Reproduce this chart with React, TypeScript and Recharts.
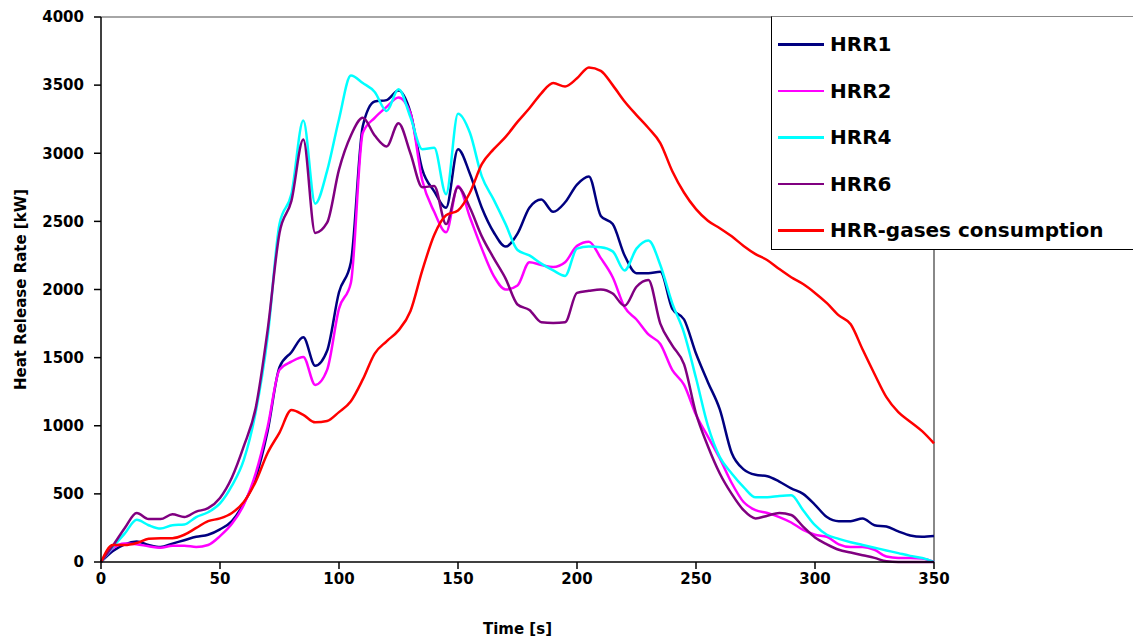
import { LineChart, Line, XAxis, YAxis, Legend, ReferenceLine } from 'recharts'

const times = [
  0, 5, 10, 15, 20, 25, 30, 35, 40, 45, 50, 55, 60, 65, 70, 75, 80, 85, 90, 95, 100, 105, 110, 115, 120,
  125, 130, 135, 140, 145, 150, 155, 160, 165, 170, 175, 180, 185, 190, 195, 200, 205, 210, 215, 220, 225,
  230, 235, 240, 245, 250, 255, 260, 265, 270, 275, 280, 285, 290, 295, 300, 305, 310, 315, 320, 325, 330,
  335, 340, 345, 350,
]

const hrr1 = [
  0, 80, 130, 150, 125, 110, 135, 160, 185, 200, 240, 300, 430, 620, 960, 1430, 1540, 1650, 1440, 1550,
  1980, 2200, 3200, 3380, 3390, 3460, 3300, 2880, 2720, 2600, 3030, 2850, 2600, 2420, 2315, 2410, 2600,
  2660, 2570, 2640, 2770, 2830, 2540, 2480, 2250, 2120, 2120, 2130, 1860, 1780, 1530, 1320, 1120, 800, 680,
  640, 630, 590, 540, 500, 420, 330, 300, 300, 320, 270, 260, 225, 195, 185, 190,
]

const hrr2 = [
  0, 100, 135, 130, 115, 105, 120, 120, 110, 125, 190, 280, 420, 650, 990, 1410, 1470, 1505, 1300, 1410,
  1860, 2050, 3150, 3260, 3340, 3410, 3295, 2800, 2570, 2420, 2760, 2530, 2300, 2100, 2000, 2030, 2200,
  2180, 2165, 2200, 2320, 2350, 2230, 2090, 1870, 1780, 1670, 1600, 1410, 1300, 1080, 920, 760, 580, 440,
  380, 360, 330, 290, 235, 200, 185, 130, 110, 110, 90, 40, 30, 30, 25, 0,
]

const hrr4 = [
  0, 110, 210, 310, 270, 245, 270, 275, 330, 365, 430, 560, 750, 1100, 1650, 2480, 2700, 3240, 2630, 2870,
  3250, 3570, 3515, 3450, 3310, 3470, 3265, 3030, 3040, 2700, 3290, 3150, 2830, 2660, 2480, 2290, 2250,
  2190, 2140, 2100, 2300, 2315, 2310, 2280, 2140, 2300, 2360, 2180, 1900, 1680, 1350, 1000, 770, 650, 550,
  475, 475, 485, 490, 380, 270, 200, 170, 145, 125, 105, 85, 65, 45, 30, 0,
]

const hrr6 = [
  0, 120, 250, 360, 315, 315, 350, 330, 370, 395, 470, 620, 850, 1130, 1700, 2415, 2650, 3100, 2415, 2490,
  2880, 3130, 3260, 3130, 3050, 3220, 3000, 2750, 2760, 2480, 2750, 2600, 2390, 2230, 2080, 1890, 1850,
  1760, 1755, 1760, 1975, 1990, 2000, 1970, 1880, 2020, 2070, 1750, 1590, 1450, 1090, 850, 650, 500, 380,
  320, 340, 360, 345, 260, 180, 130, 90, 70, 50, 30, 5, 0, 0, 0, 0,
]

const hrrGases = [
  0, 125, 125, 140, 170, 175, 175, 200, 250, 300, 320, 360, 440, 590, 800, 950, 1115, 1080, 1025, 1035,
  1100, 1180, 1340, 1530, 1620, 1700, 1840, 2140, 2400, 2545, 2580, 2710, 2920, 3030, 3120, 3230, 3330,
  3440, 3515, 3490, 3550, 3630, 3605, 3500, 3380, 3280, 3185, 3075, 2870, 2710, 2590, 2505, 2450, 2390,
  2320, 2260, 2215, 2150, 2090, 2040, 1975, 1900, 1810, 1745, 1560, 1380, 1210, 1100, 1030, 960, 870,
]

const xTicks = [0, 50, 100, 150, 200, 250, 300, 350]
const yTicks = [0, 500, 1000, 1500, 2000, 2500, 3000, 3500, 4000]

const series = [
  { key: 'hrr1', name: 'HRR1', color: '#000080', values: hrr1 },
  { key: 'hrr2', name: 'HRR2', color: '#FF00FF', values: hrr2 },
  { key: 'hrr4', name: 'HRR4', color: '#00FFFF', values: hrr4 },
  { key: 'hrr6', name: 'HRR6', color: '#800080', values: hrr6 },
  { key: 'gases', name: 'HRR-gases consumption', color: '#FF0000', values: hrrGases },
]

const data = times.map((t, i) => {
  const row: Record<string, number> = { t }
  series.forEach((s) => {
    row[s.key] = s.values[i]
  })
  return row
})

const FONT = 'DejaVu Sans, Verdana, sans-serif'
const tickStyle = { fontSize: 15, fontWeight: 'bold', fill: '#000', fontFamily: FONT }

// legend keeps the series order (recharts would sort it by name)
const renderLegend = () => (
  <div
    style={{
      width: 363,
      height: 234,
      boxSizing: 'border-box',
      border: '1px solid #000',
      borderTopColor: '#888',
      background: '#fff',
      paddingTop: 4,
      fontFamily: FONT,
    }}
  >
    {series.map((s) => (
      <div key={s.key} style={{ height: 46.5, display: 'flex', alignItems: 'center', paddingLeft: 6 }}>
        <div style={{ width: 46, height: 2.5, background: s.color, marginRight: 6 }} />
        <span style={{ fontSize: 20, fontWeight: 'bold', color: '#000', whiteSpace: 'nowrap' }}>
          {s.name}
        </span>
      </div>
    ))}
  </div>
)

const XLabel = (props: any) => {
  const { x, y, width } = props.viewBox
  return (
    <text
      x={x + width / 2}
      y={y + 72}
      textAnchor="middle"
      fontSize={15}
      fontWeight="bold"
      fontFamily={FONT}
      fill="#000"
    >
      Time [s]
    </text>
  )
}

const YLabel = (props: any) => {
  const { y, height } = props.viewBox
  const cx = 26
  const cy = y + height / 2
  return (
    <text
      x={cx}
      y={cy}
      transform={`rotate(-90, ${cx}, ${cy})`}
      textAnchor="middle"
      fontSize={15}
      fontWeight="bold"
      fontFamily={FONT}
      fill="#000"
    >
      Heat Release Rate [kW]
    </text>
  )
}

export default function App() {
  return (
    <div style={{ position: 'absolute', left: 0, top: 0, width: 1133, height: 644, background: '#fff' }}>
      <LineChart
        width={1133}
        height={644}
        data={data}
        margin={{ top: 17, right: 199, bottom: 52, left: 0 }}
      >
        <XAxis
          dataKey="t"
          type="number"
          domain={[0, 350]}
          ticks={xTicks}
          interval={0}
          height={30}
          stroke="#000"
          strokeWidth={1.5}
          tickSize={7}
          tickMargin={4}
          tick={tickStyle}
          label={<XLabel />}
        />
        <YAxis
          type="number"
          domain={[0, 4000]}
          ticks={yTicks}
          interval={0}
          width={101}
          stroke="#000"
          strokeWidth={1.5}
          tickSize={7}
          tickMargin={10}
          tick={tickStyle}
          label={<YLabel />}
        />
        <ReferenceLine y={4000} stroke="#888" strokeWidth={1.5} />
        <ReferenceLine x={350} stroke="#888" strokeWidth={2} />
        {series.map((s) => (
          <Line
            key={s.key}
            dataKey={s.key}
            name={s.name}
            type="monotone"
            stroke={s.color}
            strokeWidth={2.5}
            dot={false}
            isAnimationActive={false}
          />
        ))}
        <Legend
          layout="vertical"
          align="center"
          verticalAlign="middle"
          content={renderLegend}
          wrapperStyle={{ position: 'absolute', left: 771, top: 16, width: 363, height: 234 }}
        />
      </LineChart>
    </div>
  )
}
